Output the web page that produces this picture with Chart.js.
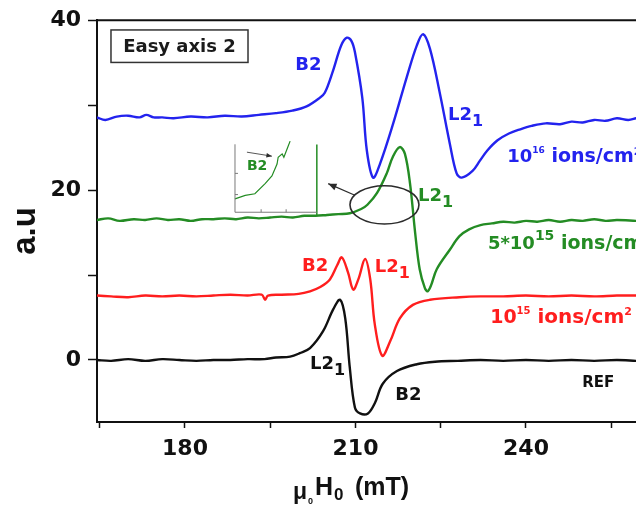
<!DOCTYPE html>
<html lang="en">
<head>
<meta charset="UTF-8">
<title>Easy axis 2 - FMR spectra</title>
<style>
    body { margin: 0; background: #fff; }
    .plot-wrap { width: 636px; height: 510px; position: relative; }
</style>
</head>
<body>
<div class="plot-wrap"><canvas id="fmrChart"></canvas></div>

<script src="https://cdn.jsdelivr.net/npm/chart.js@4"></script>
<script>
// --- data (field in mT, signal in a.u.) ---
const fieldBlue = [164.5, 166, 168, 170, 172, 173.2, 174.5, 176, 178, 181, 184, 187, 190, 193, 196, 198.9, 201.4, 203.7, 204.6, 206.0, 207.5, 208.5, 209.3, 209.9, 211.2, 212.0, 213.1, 214.3, 216.6, 219.0, 220.8, 221.9, 223.1, 224.8, 226.6, 227.8, 228.7, 230.6, 231.9, 233.2, 235, 237, 239, 241, 243.5, 246, 248, 250, 252, 254, 256, 258, 259.4];
const signalBlue = [28.6, 28.3, 28.7, 28.8, 28.6, 28.9, 28.6, 28.6, 28.5, 28.7, 28.6, 28.8, 28.7, 28.9, 29.1, 29.4, 29.9, 30.9, 31.5, 34.0, 37.1, 38.0, 37.6, 36.3, 30.9, 24.7, 21.5, 23.1, 27.8, 33.3, 37.1, 38.4, 36.7, 31.6, 25.5, 22.0, 21.5, 22.3, 23.5, 24.7, 25.9, 26.7, 27.2, 27.6, 27.9, 27.8, 28.1, 28.0, 28.3, 28.2, 28.5, 28.3, 28.5];

const fieldGreen = [164.5, 166.5, 168.5, 171, 173, 175, 177, 179, 181, 183, 185, 187, 189, 191, 193, 195, 197, 199, 201, 203, 205, 207, 209, 211, 212.1, 213.8, 215.5, 216.6, 217.8, 218.7, 219.6, 220.5, 221.3, 222.2, 222.7, 223.3, 224.3, 226.6, 228.3, 230, 232, 234, 236, 238, 240, 242, 244, 246, 248, 250, 252, 254, 256, 259.4];
const signalGreen = [16.5, 16.7, 16.4, 16.6, 16.5, 16.7, 16.5, 16.6, 16.4, 16.6, 16.6, 16.7, 16.6, 16.8, 16.7, 16.8, 16.9, 16.8, 17.0, 17.0, 17.1, 17.2, 17.3, 17.8, 18.3, 19.7, 22.0, 24.0, 25.1, 24.3, 20.8, 15.0, 10.7, 8.5, 8.1, 8.8, 10.7, 13.0, 14.6, 15.4, 15.9, 16.1, 16.3, 16.2, 16.4, 16.3, 16.5, 16.3, 16.5, 16.4, 16.6, 16.4, 16.5, 16.4];

const fieldRed = [164.5, 167, 170, 173, 176, 179, 182, 185, 188, 191, 193.5, 194.1, 194.6, 197, 200, 202, 203.8, 205.5, 206.8, 207.6, 208.7, 209.6, 210.5, 211.7, 212.6, 213.4, 214.7, 216.1, 217.8, 220.1, 223.1, 228.3, 232, 236, 240, 244, 248, 252, 256, 259.4];
const signalRed = [7.6, 7.5, 7.4, 7.6, 7.5, 7.6, 7.5, 7.6, 7.7, 7.6, 7.7, 7.1, 7.6, 7.7, 7.8, 8.1, 8.6, 9.5, 11.2, 12.1, 10.3, 8.3, 9.5, 11.9, 9.5, 4.2, 0.5, 2.2, 4.9, 6.5, 7.1, 7.4, 7.5, 7.5, 7.6, 7.5, 7.6, 7.5, 7.6, 7.6];

const fieldRef = [164.5, 167, 170, 173, 176, 179, 182, 185, 188, 191, 194, 196, 198.5, 200.2, 202, 204.3, 206.1, 207.3, 208.2, 209.0, 209.9, 210.8, 212.2, 213.4, 214.8, 217.3, 220.8, 224, 228, 232, 236, 240, 244, 248, 252, 256, 259.4];
const signalRef = [0.0, -0.1, 0.1, -0.1, 0.1, 0.0, -0.1, 0.0, 0.0, 0.1, 0.1, 0.3, 0.4, 0.8, 1.4, 3.4, 6.0, 7.1, 4.9, -0.9, -5.6, -6.3, -6.3, -5.1, -2.8, -1.3, -0.5, -0.2, -0.1, 0.0, -0.1, 0.0, -0.1, 0.0, -0.1, 0.0, -0.1];

// inset (zoom of the green B2 onset), drawn in main-axis units
const fieldInset = [188.8, 190.6, 192.3, 194.1, 195.3, 196.2, 196.4, 197.1, 197.4, 198.1, 198.5];
const signalInset = [19.0, 19.4, 19.6, 20.8, 21.7, 23.1, 23.9, 24.3, 23.9, 25.1, 25.8];
const fieldInsetEdge = [203.2, 203.2];
const signalInsetEdge = [25.4, 17.1];

// axis ticks
const xTicks = [165, 180, 195, 210, 225, 240, 255];
const xLabelled = [180, 210, 240];
const yTicks = [0, 10, 20, 30, 40];
const yLabelled = [0, 20, 40];

const BLUE = '#2323ee';
const GREEN = '#248c24';
const RED = '#ff1e1e';
const BLACK = '#111111';

function pairs(xs, ys) {
    return xs.map((x, i) => ({ x: x, y: ys[i] }));
}

function line(data, color, width, tension) {
    return {
        data: data,
        showLine: true,
        borderColor: color,
        borderWidth: width,
        pointRadius: 0,
        fill: false,
        tension: tension
    };
}

// draws a run of text pieces (sub/superscripts) starting at x, centred on y
function richText(ctx, x, y, parts, color) {
    const base = y + parts[0].s * 0.36;
    let cx = x;
    ctx.fillStyle = color;
    ctx.textAlign = 'left';
    ctx.textBaseline = 'alphabetic';
    parts.forEach(p => {
        ctx.font = 'bold ' + p.s + 'px "DejaVu Sans"';
        ctx.fillText(p.t, cx, base + (p.dy || 0));
        cx += ctx.measureText(p.t).width;
    });
}

function arrow(ctx, x0, y0, x1, y1, head) {
    const a = Math.atan2(y1 - y0, x1 - x0);
    ctx.beginPath();
    ctx.moveTo(x0, y0);
    ctx.lineTo(x1, y1);
    ctx.stroke();
    ctx.beginPath();
    ctx.moveTo(x1, y1);
    ctx.lineTo(x1 - head * Math.cos(a - 0.4), y1 - head * Math.sin(a - 0.4));
    ctx.lineTo(x1 - head * Math.cos(a + 0.4), y1 - head * Math.sin(a + 0.4));
    ctx.closePath();
    ctx.fill();
}

const labels = [
    { x: 199.4, y: 34.95, c: BLUE, parts: [{ t: 'B2', s: 18 }] },
    { x: 226.3, y: 29.0, c: BLUE, parts: [{ t: 'L2', s: 18 }, { t: '1', s: 16, dy: 6 }] },
    { x: 236.7, y: 24.15, c: BLUE, parts: [{ t: '10', s: 18 }, { t: '16', s: 9, dy: -9 }, { t: ' ions/cm', s: 19 }, { t: '2', s: 11, dy: -7 }] },
    { x: 221.0, y: 19.5, c: GREEN, parts: [{ t: 'L2', s: 18 }, { t: '1', s: 16, dy: 6 }] },
    { x: 233.3, y: 13.8, c: GREEN, parts: [{ t: '5*10', s: 18 }, { t: '15', s: 14, dy: -9 }, { t: ' ions/cm', s: 19 }, { t: '2', s: 11, dy: -7 }] },
    { x: 190.9, y: 23.0, c: GREEN, parts: [{ t: 'B2', s: 14 }] },
    { x: 200.6, y: 11.2, c: RED, parts: [{ t: 'B2', s: 18 }] },
    { x: 213.4, y: 11.15, c: RED, parts: [{ t: 'L2', s: 18 }, { t: '1', s: 16, dy: 6 }] },
    { x: 233.7, y: 5.2, c: RED, parts: [{ t: '10', s: 19 }, { t: '15', s: 10, dy: -9 }, { t: ' ions/cm', s: 20 }, { t: '2', s: 11, dy: -8 }] },
    { x: 202.0, y: -0.3, c: BLACK, parts: [{ t: 'L2', s: 18 }, { t: '1', s: 16, dy: 6 }] },
    { x: 217.0, y: -3.9, c: BLACK, parts: [{ t: 'B2', s: 18 }] },
    { x: 249.9, y: -2.55, c: BLACK, parts: [{ t: 'REF', s: 15 }] }
];

const decorations = {
    id: 'decorations',
    afterDatasetsDraw(chart) {
        const ctx = chart.ctx;
        const area = chart.chartArea;
        const xs = chart.scales.x;
        const ys = chart.scales.y;
        const px = v => xs.getPixelForValue(v);
        const py = v => ys.getPixelForValue(v);

        ctx.save();

        // top frame line
        ctx.strokeStyle = BLACK;
        ctx.lineWidth = 2;
        ctx.beginPath();
        ctx.moveTo(area.left, area.top);
        ctx.lineTo(area.right, area.top);
        ctx.stroke();

        // inset axes
        ctx.strokeStyle = '#7a7a7a';
        ctx.lineWidth = 1;
        ctx.beginPath();
        ctx.moveTo(px(188.8), py(25.43));
        ctx.lineTo(px(188.8), py(17.42));
        ctx.lineTo(px(203.2), py(17.42));
        ctx.moveTo(px(188.8), py(22.0)); ctx.lineTo(px(188.8) + 3, py(22.0));
        ctx.moveTo(px(188.8), py(19.5)); ctx.lineTo(px(188.8) + 3, py(19.5));
        ctx.moveTo(px(193.4), py(17.42)); ctx.lineTo(px(193.4), py(17.42) - 3);
        ctx.moveTo(px(197.8), py(17.42)); ctx.lineTo(px(197.8), py(17.42) - 3);
        ctx.stroke();

        // ellipse around the green B2 onset and pointer to inset
        ctx.strokeStyle = '#2b2b2b';
        ctx.fillStyle = '#2b2b2b';
        ctx.lineWidth = 1.6;
        const ex = px(215.1), ey = py(18.29);
        const rx = px(215.1 + 6.07) - ex, ry = py(18.29 - 2.26) - ey;
        ctx.beginPath();
        ctx.ellipse(ex, ey, rx, ry, 0, 0, Math.PI * 2);
        ctx.stroke();
        ctx.lineWidth = 1.2;
        arrow(ctx, px(209.9), py(19.43), px(205.2), py(20.79), 9);
        ctx.lineWidth = 0.8;
        arrow(ctx, px(190.9), py(24.5), px(195.3), py(24.03), 6);

        // "Easy axis 2" box
        const bx0 = px(166.98), bx1 = px(191.09), by0 = py(38.91), by1 = py(35.08);
        ctx.strokeStyle = '#333';
        ctx.lineWidth = 1.5;
        ctx.strokeRect(bx0, by0, bx1 - bx0, by1 - by0);
        ctx.fillStyle = '#1a1a1a';
        ctx.font = 'bold 18px "DejaVu Sans"';
        ctx.textAlign = 'center';
        ctx.textBaseline = 'middle';
        ctx.fillText('Easy axis 2', (bx0 + bx1) / 2, (by0 + by1) / 2 + 1);

        labels.forEach(l => richText(ctx, px(l.x), py(l.y), l.parts, l.c));

        ctx.restore();
    },
    afterDraw(chart) {
        const ctx = chart.ctx;
        ctx.save();
        ctx.fillStyle = BLACK;
        ctx.textAlign = 'left';
        ctx.textBaseline = 'alphabetic';

        // x title: mu0 H0 (mT)
        ctx.font = 'bold 23px "Liberation Sans"';
        ctx.fillText('\u03BC', 293, 499);
        ctx.font = 'bold 9px "Liberation Sans"';
        ctx.fillText('0', 308, 504);
        ctx.font = 'bold 25px "Liberation Sans"';
        ctx.fillText('H', 315, 495);
        ctx.font = 'bold 17px "Liberation Sans"';
        ctx.fillText('0', 334, 500);
        ctx.font = 'bold 25px "Liberation Sans"';
        ctx.fillText('(mT)', 355, 495);

        // y title
        ctx.translate(35, 231);
        ctx.rotate(-Math.PI / 2);
        ctx.textAlign = 'center';
        ctx.font = 'bold 33px "Liberation Sans"';
        ctx.fillText('a.u', 0, 0);
        ctx.restore();
    }
};

const tickFont = { family: '"DejaVu Sans"', size: 22, weight: 'bold' };

new Chart(document.getElementById('fmrChart'), {
    type: 'scatter',
    data: {
        datasets: [
            line(pairs(fieldBlue, signalBlue), BLUE, 2.4, 0.35),
            line(pairs(fieldGreen, signalGreen), GREEN, 2.4, 0.35),
            line(pairs(fieldRed, signalRed), RED, 2.4, 0.35),
            line(pairs(fieldRef, signalRef), BLACK, 2.4, 0.35),
            line(pairs(fieldInset, signalInset), GREEN, 1.2, 0),
            line(pairs(fieldInsetEdge, signalInsetEdge), GREEN, 1.5, 0)
        ]
    },
    options: {
        responsive: true,
        maintainAspectRatio: false,
        animation: false,
        events: [],
        layout: { padding: { top: 14, right: 0, left: 0, bottom: 0 } },
        plugins: {
            legend: { display: false },
            tooltip: { enabled: false }
        },
        scales: {
            x: {
                type: 'linear',
                min: 164.52,
                max: 259.36,
                afterBuildTicks: s => { s.ticks = xTicks.map(v => ({ value: v })); },
                afterFit: s => { s.height = 88; },
                ticks: {
                    autoSkip: false,
                    maxRotation: 0,
                    padding: 8,
                    color: BLACK,
                    font: tickFont,
                    callback: v => xLabelled.includes(v) ? String(v) : ''
                },
                grid: { drawOnChartArea: false, drawTicks: true, tickLength: 6, tickColor: BLACK, tickWidth: 1.5 },
                border: { display: true, color: BLACK, width: 2 }
            },
            y: {
                type: 'linear',
                min: -7.31,
                max: 40.06,
                afterBuildTicks: s => { s.ticks = yTicks.map(v => ({ value: v })); },
                afterFit: s => { s.width = 97; },
                ticks: {
                    padding: 7,
                    color: BLACK,
                    font: tickFont,
                    callback: v => yLabelled.includes(v) ? String(v) : ''
                },
                grid: { drawOnChartArea: false, drawTicks: true, tickLength: 9, tickColor: BLACK, tickWidth: 1.5 },
                border: { display: true, color: BLACK, width: 2 }
            }
        }
    },
    plugins: [decorations]
});
</script>
</body>
</html>
